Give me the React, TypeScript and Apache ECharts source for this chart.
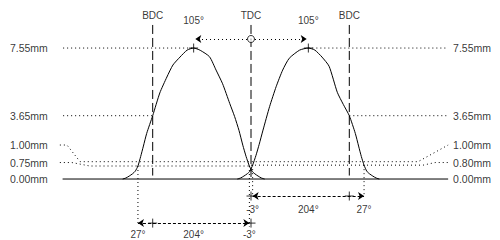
import React, { useEffect, useRef } from 'react';
import * as echarts from 'echarts';

// crank angle in degrees (TDC = 0), lift in mm
const angleMin = -440;
const angleMax = 440;
const liftMin = -3.5;
const liftMax = 9.5;

const exhaustAngles = [-235, -229, -223, -217, -212, -207, -202, -197, -191, -180, -167, -154, -143, -130, -117, -105, -93, -76, -64, -52, -39, -30, -22, -15, -9, -3, 2, 7, 13, 19, 25];
const exhaustLifts = [0, 0.06, 0.17, 0.3, 0.45, 0.75, 1.3, 1.9, 2.63, 3.65, 4.96, 5.88, 6.57, 7.03, 7.43, 7.55, 7.42, 7.05, 6.28, 5.49, 4.36, 3.6, 2.8, 1.95, 1.3, 0.75, 0.45, 0.3, 0.17, 0.06, 0];

const intakeAngles = [-25, -19, -13, -7, -2, 3, 9, 15, 22, 34, 46, 58, 70, 89, 105, 117, 130, 143, 158, 169, 180, 191, 197, 202, 207, 212, 217, 223, 229, 235];
const intakeLifts = [0, 0.06, 0.17, 0.3, 0.45, 0.8, 1.35, 2.0, 2.82, 4.17, 5.32, 6.28, 6.96, 7.43, 7.55, 7.43, 7.03, 6.5, 5.0, 4.3, 3.65, 2.63, 1.9, 1.3, 0.8, 0.45, 0.3, 0.17, 0.06, 0];

const deadCenterNames = ['BDC', 'TDC', 'BDC'];
const deadCenterAngles = [-180, 0, 180];

const maxLift = 7.55;
const peakAngle = 105;
const liftAtBDC = 3.65;
const referenceLift = 1.0;
const exhaustCheckLift = 0.75;
const intakeCheckLift = 0.8;

const exhaustOpensBBDC = 27;
const exhaustClosesATDC = -3;
const intakeOpensBTDC = -3;
const intakeClosesABDC = 27;

const exOpen = -180 - exhaustOpensBBDC;
const exClose = exhaustClosesATDC;
const inOpen = -intakeOpensBTDC;
const inClose = 180 + intakeClosesABDC;
const exDuration = exhaustOpensBBDC + 180 + exhaustClosesATDC;
const inDuration = intakeOpensBTDC + 180 + intakeClosesABDC;

const FONT = '"Liberation Sans", Arial, sans-serif';
const BLACK = '#000';
const DOT: number[] = [1, 3];
const DASH_DC: number[] = [9, 4];
const DASH_DIM: number[] = [3, 2];

const mm = (v: number) => v.toFixed(2) + 'mm';
const deg = (v: number) => v + '°';

function poly(points: number[][], type: any, width = 1) {
  return {
    type: 'line',
    data: points,
    symbol: 'none',
    silent: true,
    lineStyle: { color: BLACK, width, type },
    z: 2,
  };
}

export default function App() {
  const ref = useRef<HTMLDivElement>(null);
  useEffect(() => {
    if (!ref.current) return;
    const chart = echarts.init(ref.current, null, { renderer: 'svg' });

    // row positions (mm) for annotations
    const topTextLift = 9.45;
    const peakTextLift = 9.11;
    const dcTopLift = 8.88;
    const arrowLift = 8.07;
    const inDimLift = -0.98;
    const inTextLift = -1.76;
    const exDimLift = -2.54;
    const exTextLift = -3.2;
    const leftLineStart = -344;
    const rightLineEnd = 361;
    const leftTextAt = -372;
    const rightTextAt = 370;
    const labelRow1 = 1.96;
    const labelRow2 = 0.95;

    const texts: any[] = [];
    const addText = (x: number, y: number, t: string, align = 'center', size = 10) =>
      texts.push({
        value: [x, y],
        label: { formatter: t, align, verticalAlign: 'middle', fontSize: size, color: BLACK },
      });

    deadCenterNames.forEach((n, i) => addText(deadCenterAngles[i], topTextLift, n));
    addText(-peakAngle, peakTextLift, deg(peakAngle));
    addText(peakAngle, peakTextLift, deg(peakAngle));
    addText(leftTextAt, maxLift, mm(maxLift), 'right', 10.5);
    addText(leftTextAt, liftAtBDC, mm(liftAtBDC), 'right', 10.5);
    addText(leftTextAt, labelRow1, mm(referenceLift), 'right', 10.5);
    addText(leftTextAt, labelRow2, mm(exhaustCheckLift), 'right', 10.5);
    addText(leftTextAt, 0, mm(0), 'right', 10.5);
    addText(rightTextAt, maxLift, mm(maxLift), 'left', 10.5);
    addText(rightTextAt, liftAtBDC, mm(liftAtBDC), 'left', 10.5);
    addText(rightTextAt, labelRow1, mm(referenceLift), 'left', 10.5);
    addText(rightTextAt, labelRow2, mm(intakeCheckLift), 'left', 10.5);
    addText(rightTextAt, 0, mm(0), 'left', 10.5);
    addText(inOpen, inTextLift, deg(intakeOpensBTDC));
    addText((inOpen + inClose) / 2, inTextLift, deg(inDuration));
    addText(inClose, inTextLift, deg(intakeClosesABDC));
    addText(exOpen, exTextLift, deg(exhaustOpensBBDC));
    addText((exOpen + exClose) / 2, exTextLift, deg(exDuration));
    addText(exClose, exTextLift, deg(exhaustClosesATDC));

    const series: any[] = [
      // baseline
      poly([[leftLineStart - 1, 0], [rightLineEnd, 0]], 'solid'),
      // reference dotted lines
      poly([[leftLineStart, maxLift], [-peakAngle, maxLift]], DOT),
      poly([[peakAngle, maxLift], [rightLineEnd, maxLift]], DOT),
      poly([[leftLineStart, liftAtBDC], [-180, liftAtBDC]], DOT),
      poly([[180, liftAtBDC], [rightLineEnd, liftAtBDC]], DOT),
      poly([[-350, labelRow1], [-337, labelRow1], [-313, referenceLift], [306, referenceLift], [rightLineEnd, labelRow1]], DOT),
      poly([[-350, labelRow2], [-328, labelRow2], [-295, exhaustCheckLift], [0, exhaustCheckLift]], DOT),
      poly([[0, intakeCheckLift], [315, intakeCheckLift], [337, labelRow2], [rightLineEnd, labelRow2]], DOT),
      // timing verticals below
      poly([[exOpen, exhaustCheckLift], [exOpen, exDimLift]], DOT),
      poly([[exClose, exhaustCheckLift], [exClose, exDimLift - 0.2]], DOT),
      poly([[inOpen, intakeCheckLift], [inOpen, inDimLift]], DOT),
      poly([[inClose, intakeCheckLift], [inClose, inDimLift]], DOT),
      // dead centre dashed lines
      poly([[deadCenterAngles[0], dcTopLift], [deadCenterAngles[0], 0.2]], DASH_DC),
      poly([[deadCenterAngles[1], dcTopLift], [deadCenterAngles[1], 0]], DASH_DC),
      poly([[deadCenterAngles[2], dcTopLift], [deadCenterAngles[2], 0.2]], DASH_DC),
      // lift curves
      {
        type: 'line',
        name: 'Exhaust',
        data: exhaustAngles.map((a, i) => [a, exhaustLifts[i]]),
        symbol: 'none',
        smooth: 0.2,
        lineStyle: { color: BLACK, width: 1 },
        z: 3,
      },
      {
        type: 'line',
        name: 'Intake',
        data: intakeAngles.map((a, i) => [a, intakeLifts[i]]),
        symbol: 'none',
        smooth: 0.2,
        lineStyle: { color: BLACK, width: 1 },
        z: 3,
      },
      // arrows
      {
        type: 'lines',
        coordinateSystem: 'cartesian2d',
        silent: true,
        symbol: ['none', 'arrow'],
        symbolSize: 6,
        lineStyle: { color: BLACK, width: 1, type: DOT, opacity: 1 },
        data: [
          { coords: [[0, arrowLift], [-peakAngle + 3, arrowLift]] },
          { coords: [[0, arrowLift], [peakAngle - 3, arrowLift]] },
        ],
        z: 3,
      },
      {
        type: 'lines',
        coordinateSystem: 'cartesian2d',
        silent: true,
        symbol: ['arrow', 'arrow'],
        symbolSize: 6,
        lineStyle: { color: BLACK, width: 1, type: DASH_DIM, opacity: 1 },
        data: [
          { coords: [[inOpen, inDimLift], [inClose, inDimLift]] },
          { coords: [[exOpen, exDimLift], [exClose, exDimLift]] },
        ],
        z: 3,
      },
      // peak crosses and dimension crosses
      {
        type: 'scatter',
        silent: true,
        symbol: 'path://M5,0L5,10M0,5L10,5',
        symbolSize: 9,
        itemStyle: { color: 'none', borderColor: BLACK, borderWidth: 1 },
        data: [
          [-peakAngle, maxLift],
          [peakAngle, maxLift],
          [0, inDimLift],
          [180, inDimLift],
          [-180, exDimLift],
          [0, exDimLift],
        ],
        z: 4,
      },
      // TDC circle
      {
        type: 'scatter',
        silent: true,
        symbol: 'circle',
        symbolSize: 7,
        itemStyle: { color: '#fff', borderColor: BLACK, borderWidth: 1 },
        data: [[0, arrowLift]],
        z: 5,
      },
      // texts
      {
        type: 'scatter',
        silent: true,
        symbol: 'circle',
        symbolSize: 1,
        itemStyle: { color: 'transparent' },
        label: {
          show: true,
          position: 'inside',
          color: BLACK,
          fontFamily: FONT,
        },
        data: texts,
        z: 6,
      },
    ];

    chart.setOption({
      animation: false,
      backgroundColor: '#fff',
      grid: { left: 10.7, top: 14.2, width: 480.6, height: 225.55 },
      xAxis: { type: 'value', min: angleMin, max: angleMax, show: false },
      yAxis: { type: 'value', min: liftMin, max: liftMax, show: false },
      series,
    });
    return () => chart.dispose();
  }, []);
  return (
    <div
      ref={ref}
      style={{ position: 'fixed', left: 0, top: 0, width: 500, height: 240, background: '#fff' }}
    />
  );
}
